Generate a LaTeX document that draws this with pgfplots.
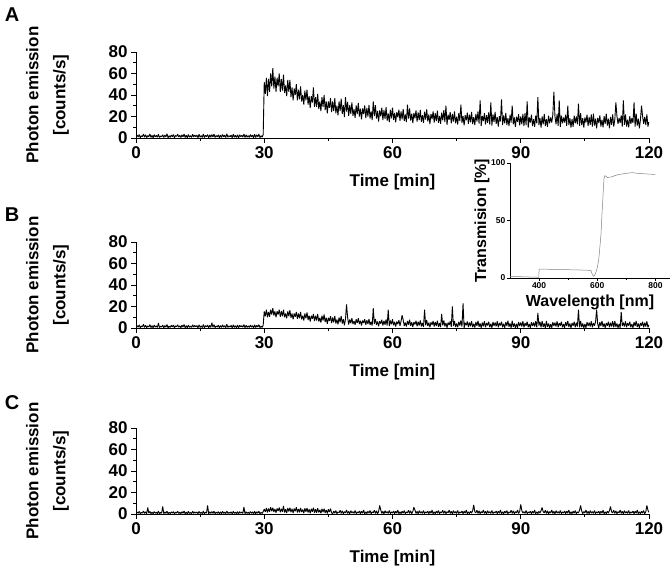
\documentclass[border=0pt]{standalone}
\usepackage{fontspec}
\setmainfont{Liberation Sans}
\usepackage{pgfplots}
\pgfplotsset{compat=1.18}
\pgfplotsset{
  panel/.style={
    scale only axis, width=513pt, height=86pt, anchor=south west,
    xmin=0, xmax=120, ymin=0, ymax=80,
    axis x line*=bottom, axis y line*=left,
    xtick={0,30,60,90,120}, ytick={0,20,40,60,80},
    minor xtick={15,45,75,105}, minor ytick={10,30,50,70},
    tick align=outside, major tick length=5pt, minor tick length=3pt,
    tick style={black, line width=0.8pt},
    axis line style={black, line width=0.8pt},
    /pgf/number format/assume math mode=true,
    tick label style={font=\fontsize{17}{20}\selectfont\bfseries},
    label style={font=\fontsize{17}{20}\selectfont\bfseries},
    xlabel={Time [min]},
    ylabel={Photon emission\\[7pt]{[}counts/s{]}},
    xlabel style={at={(axis description cs:0.5,-0.51)}, anchor=center},
    ylabel style={at={(axis description cs:-0.1725,0.5)}, anchor=center, align=center},
  },
  sig/.style={black, line width=0.9pt, no markers, line join=bevel},
}
\begin{document}
\begin{tikzpicture}
\path[use as bounding box] (0pt,0pt) rectangle (672pt,573pt);
\node[font=\fontsize{20}{24}\selectfont\bfseries] at (12pt,558pt) {A};
\node[font=\fontsize{20}{24}\selectfont\bfseries] at (12pt,358pt) {B};
\node[font=\fontsize{20}{24}\selectfont\bfseries] at (12pt,170pt) {C};

% ---------------- Panel A ----------------
\begin{axis}[panel, at={(136pt,435pt)}]
\addplot[sig] table[row sep=\\, header=false, x expr=\coordindex*0.25, y index=0] {
0.5\\2.6\\1.1\\3.2\\0.3\\2.0\\1.4\\3.6\\
0.8\\2.9\\0.4\\2.2\\1.2\\3.8\\0.6\\2.5\\
0.2\\3.1\\1.0\\2.4\\0.7\\3.4\\0.5\\1.8\\
1.3\\3.0\\0.4\\2.7\\0.9\\3.9\\0.3\\2.1\\
0.6\\2.8\\1.2\\3.3\\0.2\\2.3\\1.5\\3.5\\
0.9\\2.4\\0.5\\3.0\\1.1\\3.7\\0.4\\2.6\\
0.3\\3.2\\0.8\\2.1\\0.6\\3.5\\1.0\\2.8\\
1.2\\2.7\\0.3\\3.4\\0.8\\2.2\\0.5\\3.8\\
0.4\\2.5\\1.3\\3.1\\0.2\\2.9\\0.7\\3.3\\
0.9\\3.6\\0.5\\2.3\\1.1\\3.0\\0.3\\2.7\\
0.6\\3.3\\1.0\\2.6\\0.4\\3.9\\0.8\\2.2\\
1.1\\2.8\\0.3\\3.5\\0.7\\2.4\\0.5\\3.1\\
0.2\\3.0\\1.2\\2.5\\0.9\\3.7\\0.4\\2.9\\
0.8\\2.3\\0.6\\3.2\\1.0\\2.7\\0.3\\3.4\\
0.5\\2.9\\1.1\\3.6\\0.4\\2.1\\0.8\\3.0\\
52\\41\\56\\39\\55\\43\\60\\48\\
65\\46\\57\\43\\56\\48\\60\\43\\
55\\44\\59\\42\\49\\39\\54\\43\\
54\\38\\47\\35\\46\\40\\50\\35\\
45\\36\\48\\34\\40\\31\\44\\35\\
45\\31\\39\\28\\39\\33\\47\\29\\
38\\29\\41\\27\\34\\25\\38\\29\\
40\\26\\34\\23\\34\\28\\37\\24\\
34\\25\\37\\23\\30\\21\\34\\25\\
36.5\\22.5\\30.5\\19.5\\38\\24.5\\33.5\\20.5\\
30.5\\22.4\\33.2\\20.6\\26.8\\18.7\\30.4\\22.3\\
32.6\\20\\27.2\\17.3\\27.6\\22.2\\30.3\\18.6\\
28\\19.9\\30.7\\18.1\\24.8\\16.7\\34\\20.3\\
30.6\\18\\25.2\\15.3\\25.6\\20.2\\28.3\\16.6\\
26\\17.9\\28.7\\16.1\\22.8\\14.7\\26.4\\18.3\\
28.2\\17\\23.4\\14.6\\24\\19.2\\26.4\\16\\
24.6\\17.4\\27\\15.8\\22\\14.8\\31\\18\\
27.4\\16.2\\22.6\\13.8\\23.2\\18.4\\25.6\\15.2\\
23.8\\16.6\\26.2\\15\\21.2\\14\\24.4\\17.2\\
26.6\\15.4\\21.8\\13\\22.4\\17.6\\24.8\\14.4\\
23\\15.8\\25.4\\14.2\\20.4\\13.2\\23.6\\16.4\\
25.9\\14.7\\30\\12.3\\21.7\\16.9\\24.1\\13.7\\
22.4\\15.2\\24.8\\13.6\\19.8\\12.6\\23\\15.8\\
31\\14.1\\20.5\\11.7\\21.2\\16.4\\23.6\\13.2\\
21.8\\14.6\\24.2\\13\\19.3\\12.1\\22.5\\15.3\\
24.7\\13.5\\35\\11.1\\20.6\\15.8\\23\\12.6\\
21.3\\14.1\\23.7\\12.5\\33\\11.6\\22\\14.8\\
24.3\\13.1\\19.5\\10.7\\20.2\\15.4\\36\\12.2\\
20.9\\13.7\\23.3\\12.1\\18.4\\11.2\\21.6\\14.4\\
30\\12.7\\19.1\\10.3\\19.8\\15\\22.2\\11.8\\
20\\12.8\\22.4\\11.2\\23.2\\12\\34\\9.6\\
19.2\\14.4\\21.6\\11.2\\17.6\\10.4\\20.8\\13.6\\
38\\12\\18.4\\9.6\\20\\12.8\\22.4\\11.2\\
17.6\\10.4\\20.8\\13.6\\19.2\\14.4\\21.6\\43\\
20\\12.8\\22.4\\11.2\\35\\10.4\\20.8\\13.6\\
19.2\\14.4\\21.6\\11.2\\30\\12\\18.4\\9.6\\
17.6\\10.4\\20.8\\13.6\\20\\12.8\\32\\11.2\\
23.2\\12\\18.4\\9.6\\19.2\\14.4\\21.6\\11.2\\
19.5\\12.3\\21.9\\10.7\\22.7\\11.5\\17.9\\9.1\\
18.7\\13.9\\21.1\\10.7\\17.1\\9.9\\20.3\\13.1\\
22.7\\11.5\\17.9\\9.1\\19.5\\12.3\\21.9\\10.7\\
17.1\\33\\20.3\\13.1\\18.7\\13.9\\21.1\\10.7\\
35\\12.3\\21.9\\10.7\\17.1\\9.9\\20.3\\13.1\\
18.7\\13.9\\33\\10.7\\22.7\\11.5\\17.9\\9.1\\
17.1\\30\\20.3\\13.1\\19.5\\12.3\\21.9\\10.7\\
15\\
};
\end{axis}

% ---------------- Panel B ----------------
\begin{axis}[panel, at={(136pt,245pt)}]
\addplot[sig] table[row sep=\\, header=false, x expr=\coordindex*0.25, y index=0] {
0.3\\2.2\\0.8\\2.9\\0.2\\1.8\\1.1\\3.4\\
0.6\\2.5\\0.3\\1.9\\1.0\\3.1\\0.4\\2.2\\
0.2\\2.7\\0.9\\2.0\\0.5\\4.6\\0.4\\1.6\\
1.0\\2.6\\0.3\\2.3\\0.7\\3.2\\0.2\\1.8\\
0.5\\2.4\\1.0\\2.8\\0.1\\2.0\\1.2\\3.0\\
0.7\\2.0\\0.4\\2.6\\0.9\\3.3\\0.3\\2.2\\
0.2\\2.8\\0.6\\1.8\\0.5\\3.0\\0.8\\2.4\\
1.0\\2.3\\0.2\\2.9\\0.6\\1.9\\0.4\\3.2\\
0.3\\2.1\\1.1\\2.7\\0.2\\2.5\\0.6\\4.8\\
0.7\\3.1\\0.4\\2.0\\0.9\\2.6\\0.2\\2.3\\
0.5\\2.9\\0.8\\2.2\\0.3\\3.4\\0.6\\1.9\\
0.9\\2.4\\0.2\\3.0\\0.6\\2.1\\0.4\\2.7\\
0.1\\2.6\\1.0\\2.1\\0.7\\3.2\\0.3\\2.5\\
0.6\\2.0\\0.5\\2.8\\0.8\\2.3\\0.2\\2.9\\
0.4\\2.5\\0.9\\3.1\\0.3\\1.8\\0.6\\2.6\\
15.5\\11\\17\\10\\15\\10.5\\17\\12.5\\
18.5\\11.5\\15.5\\10\\15.5\\12.5\\17\\10.5\\
15.5\\11\\17\\10\\13.5\\9\\15.5\\11\\
16.5\\9.5\\13.5\\8\\13.5\\10.5\\15\\8.5\\
13.5\\9\\15\\8\\11.5\\7\\13.5\\9\\
14.5\\7.5\\11.5\\6\\11.5\\8.5\\13\\6.5\\
11.5\\7\\13\\6\\9.5\\5\\11.5\\7\\
12.5\\5.5\\9.5\\4\\9.5\\6.5\\11\\4.5\\
9.7\\5.2\\11.2\\4.2\\7.9\\3.4\\9.9\\5.4\\
11.1\\4.1\\8.1\\2.6\\8.3\\22\\9.8\\3.3\\
8\\4.4\\9.2\\3.6\\6.6\\3\\8.2\\4.6\\
9.2\\3.6\\6.8\\2.4\\7\\4.6\\8.2\\3\\
7.2\\3.6\\8.4\\2.8\\5.8\\2.2\\18.5\\3.8\\
8.5\\2.9\\6.1\\1.7\\6.4\\4\\7.6\\2.4\\
6.7\\3.1\\7.9\\2.3\\17\\1.8\\7\\3.4\\
8.1\\2.5\\5.7\\1.3\\6\\3.6\\7.2\\2\\
6.3\\12\\7.5\\1.9\\5\\1.4\\6.6\\3\\
7.7\\2.1\\5.3\\0.9\\5.6\\3.2\\6.8\\1.6\\
5.9\\2.3\\7.1\\1.5\\4.6\\1\\17\\2.6\\
7.4\\1.8\\5\\0.6\\5.3\\2.9\\6.5\\1.3\\
5.6\\2\\6.8\\1.2\\4.4\\0.8\\13\\2.4\\
7.1\\1.5\\4.7\\0.3\\5.1\\2.7\\6.3\\1.1\\
20\\1.8\\6.6\\1\\4.2\\0.6\\5.8\\2.2\\
6.9\\1.3\\23\\0.1\\4.9\\2.5\\6.1\\0.9\\
5.2\\1.6\\6.4\\0.8\\4\\0.4\\5.6\\2\\
6.7\\1.1\\4.3\\0.1\\5.1\\1.5\\6.3\\0.7\\
4.7\\2.3\\5.9\\0.7\\3.9\\0.3\\5.5\\1.9\\
5.1\\1.5\\6.3\\0.7\\4.7\\2.3\\5.9\\0.7\\
3.9\\0.3\\5.5\\1.9\\6.7\\1.1\\4.3\\0.1\\
6.7\\1.1\\4.3\\0.1\\3.9\\0.3\\5.5\\1.9\\
5\\1.4\\6.2\\0.6\\4.6\\2.2\\5.8\\0.6\\
3.8\\0.2\\5.4\\1.8\\5\\1.4\\6.2\\0.6\\
14\\2.2\\5.8\\0.6\\6.6\\1\\4.2\\0.1\\
6.6\\1\\4.2\\0.1\\3.8\\0.2\\5.4\\1.8\\
5\\1.4\\6.2\\0.6\\4.6\\2.2\\5.8\\0.6\\
3.8\\0.2\\5.4\\1.8\\6.6\\1\\4.2\\0.1\\
4.6\\2.2\\5.8\\0.6\\5\\1.4\\17\\0.6\\
6.6\\1\\4.2\\0.1\\3.8\\0.2\\5.4\\1.8\\
5\\1.4\\6.2\\0.6\\4.6\\2.2\\5.8\\17\\
3.8\\0.2\\5.4\\1.8\\6.6\\1\\4.2\\0.1\\
4.6\\2.2\\5.8\\0.6\\5\\1.4\\6.2\\0.6\\
6.6\\1\\4.2\\0.1\\3.8\\0.2\\15\\1.8\\
5\\1.4\\6.2\\0.6\\4.6\\2.2\\5.8\\0.6\\
3.8\\0.2\\5.4\\1.8\\6.6\\1\\4.2\\0.1\\
4.6\\2.2\\5.8\\0.6\\5\\1.4\\6.2\\0.6\\
3\\
};
\end{axis}

% ---------------- Panel C ----------------
\begin{axis}[panel, at={(136pt,59pt)}]
\addplot[sig] table[row sep=\\, header=false, x expr=\coordindex*0.25, y index=0] {
0.3\\1.8\\0.7\\2.4\\0.2\\1.5\\0.9\\2.8\\
0.5\\2.1\\0.3\\6.0\\0.8\\2.5\\0.4\\1.7\\
0.2\\2.3\\0.7\\1.6\\0.4\\2.7\\0.3\\1.4\\
0.8\\7.0\\0.3\\1.9\\0.6\\2.6\\0.2\\1.5\\
0.4\\2.0\\0.8\\2.3\\0.1\\1.7\\0.9\\2.5\\
0.5\\1.6\\0.3\\2.2\\0.7\\2.8\\0.2\\1.8\\
0.2\\2.4\\0.5\\1.5\\0.4\\2.5\\0.6\\2.0\\
0.8\\1.9\\0.2\\2.4\\0.5\\1.6\\0.3\\2.7\\
0.3\\1.7\\0.9\\8.0\\0.2\\2.1\\0.5\\2.3\\
0.6\\2.6\\0.3\\1.7\\0.7\\2.2\\0.2\\1.9\\
0.4\\2.4\\0.6\\1.8\\0.3\\2.8\\0.5\\1.6\\
0.7\\2.0\\0.2\\2.5\\0.5\\1.7\\0.3\\2.2\\
0.1\\2.2\\0.8\\1.7\\0.6\\6.5\\0.3\\2.1\\
0.5\\1.6\\0.4\\2.3\\0.7\\1.9\\0.2\\2.4\\
0.3\\2.1\\0.7\\2.6\\0.2\\1.5\\0.5\\2.2\\
4.5\\2.0\\5.6\\1.5\\5.0\\2.2\\6.2\\2.6\\
5.8\\1.8\\4.6\\1.2\\5.2\\2.8\\6.0\\1.6\\
4.9\\2.1\\7.5\\1.4\\4.4\\1.0\\5.5\\2.3\\
5.9\\1.7\\4.8\\0.9\\5.1\\2.5\\6.3\\1.4\\
4.7\\1.5\\5.7\\1.8\\4.2\\0.8\\5.3\\2.0\\
5.6\\1.3\\4.4\\0.7\\4.9\\2.2\\5.8\\1.2\\
4.5\\1.2\\5.3\\1.5\\3.9\\0.6\\4.8\\1.7\\
4.9\\1.0\\3.8\\0.5\\4.3\\1.8\\5.0\\1.0\\
0.4\\2.6\\0.8\\3.2\\0.3\\2.0\\1.1\\3.5\\
0.6\\2.9\\0.3\\2.3\\1.0\\3.8\\0.5\\2.4\\
0.2\\3.1\\0.9\\2.2\\0.6\\3.3\\0.4\\1.9\\
1.0\\2.8\\0.3\\2.6\\0.8\\3.6\\0.2\\2.1\\
0.4\\2.6\\0.8\\3.2\\0.3\\2.0\\1.1\\3.5\\
0.6\\2.9\\0.3\\2.3\\8.0\\3.8\\0.5\\2.4\\
0.2\\3.1\\0.9\\2.2\\0.6\\3.3\\0.4\\1.9\\
1.0\\2.8\\0.3\\2.6\\0.8\\3.6\\0.2\\2.1\\
0.4\\2.6\\0.8\\3.2\\0.3\\2.0\\1.1\\3.5\\
0.6\\2.9\\0.3\\2.3\\6.2\\3.8\\0.5\\2.4\\
0.2\\3.1\\0.9\\2.2\\0.6\\3.3\\0.4\\1.9\\
1.0\\2.8\\0.3\\2.6\\0.8\\3.6\\0.2\\2.1\\
0.4\\2.6\\0.8\\3.2\\0.3\\2.0\\1.1\\3.5\\
0.6\\2.9\\0.3\\2.3\\1.0\\3.8\\0.5\\2.4\\
0.2\\3.1\\0.9\\2.2\\0.6\\3.3\\0.4\\1.9\\
1.0\\2.8\\0.3\\2.6\\0.8\\3.6\\0.2\\2.1\\
0.4\\2.6\\0.8\\3.2\\8.5\\2.0\\1.1\\3.5\\
0.6\\2.9\\0.3\\2.3\\1.0\\3.8\\0.5\\2.4\\
0.2\\3.1\\0.9\\2.2\\0.6\\3.3\\0.4\\1.9\\
1.0\\2.8\\0.3\\2.6\\0.8\\3.6\\0.2\\2.1\\
0.4\\2.6\\0.8\\3.2\\0.3\\2.0\\1.1\\3.5\\
0.6\\2.9\\0.3\\2.3\\1.0\\3.8\\0.5\\2.4\\
9.0\\3.1\\0.9\\2.2\\0.6\\3.3\\0.4\\1.9\\
1.0\\2.8\\0.3\\2.6\\0.8\\3.6\\0.2\\2.1\\
0.4\\2.6\\0.8\\3.2\\6.0\\2.0\\1.1\\3.5\\
0.6\\2.9\\0.3\\2.3\\1.0\\3.8\\0.5\\2.4\\
0.2\\3.1\\0.9\\2.2\\0.6\\3.3\\0.4\\1.9\\
1.0\\2.8\\0.3\\2.6\\0.8\\3.6\\0.2\\2.1\\
0.4\\2.6\\0.8\\3.2\\0.3\\2.0\\1.1\\3.5\\
8.0\\2.9\\0.3\\2.3\\1.0\\3.8\\0.5\\2.4\\
0.2\\3.1\\0.9\\2.2\\0.6\\3.3\\0.4\\1.9\\
1.0\\2.8\\0.3\\2.6\\0.8\\3.6\\0.2\\2.1\\
0.4\\2.6\\0.8\\3.2\\7.0\\2.0\\1.1\\3.5\\
0.6\\2.9\\0.3\\2.3\\1.0\\3.8\\0.5\\2.4\\
0.2\\3.1\\0.9\\2.2\\0.6\\3.3\\0.4\\1.9\\
1.0\\2.8\\0.3\\2.6\\0.8\\3.6\\0.2\\2.1\\
0.4\\2.6\\0.8\\3.2\\0.3\\2.0\\8.0\\3.5\\
1.5\\
};
\end{axis}

% ---------------- Inset ----------------
\begin{axis}[
  scale only axis, width=160pt, height=115pt, at={(510pt,295pt)}, anchor=south west,
  xmin=300, xmax=850, ymin=0, ymax=100,
  axis x line*=bottom, axis y line*=left,
  xtick={400,600,800}, minor xtick={500,700}, ytick={0,50,100},
  tick align=outside, major tick length=3pt, minor tick length=2pt,
  tick style={black, line width=0.5pt},
  axis line style={black, line width=0.6pt},
  /pgf/number format/assume math mode=true,
  tick label style={font=\fontsize{8.5}{10}\selectfont\bfseries, inner sep=1.5pt},
  label style={font=\fontsize{16}{19}\selectfont\bfseries},
  xlabel={Wavelength [nm]}, ylabel={Transmision [\%]},
  xlabel style={at={(axis description cs:0.5,-0.209)}, anchor=center},
  ylabel style={at={(axis description cs:-0.175,0.5)}, anchor=center},
]
\addplot[gray, line width=0.5pt, no markers] coordinates {
(300,1.4)(350,1.0)(399,0.6)(400,7.8)(450,7.5)(500,7.2)(550,6.9)(578,6.6)
(583,3)(587,1.5)(590,2)(594,4)(600,9)(605,16)(609,27)(613,39)(616,55)
(619,68)(621,78)(623,86)(626,89)(630,88.5)(635,87.3)(640,87.6)(651,88)
(660,89)(674,90)(700,91)(720,91.6)(740,91)(756,90.7)(780,90.3)(800,90)
};
\end{axis}
\end{tikzpicture}
\end{document}
